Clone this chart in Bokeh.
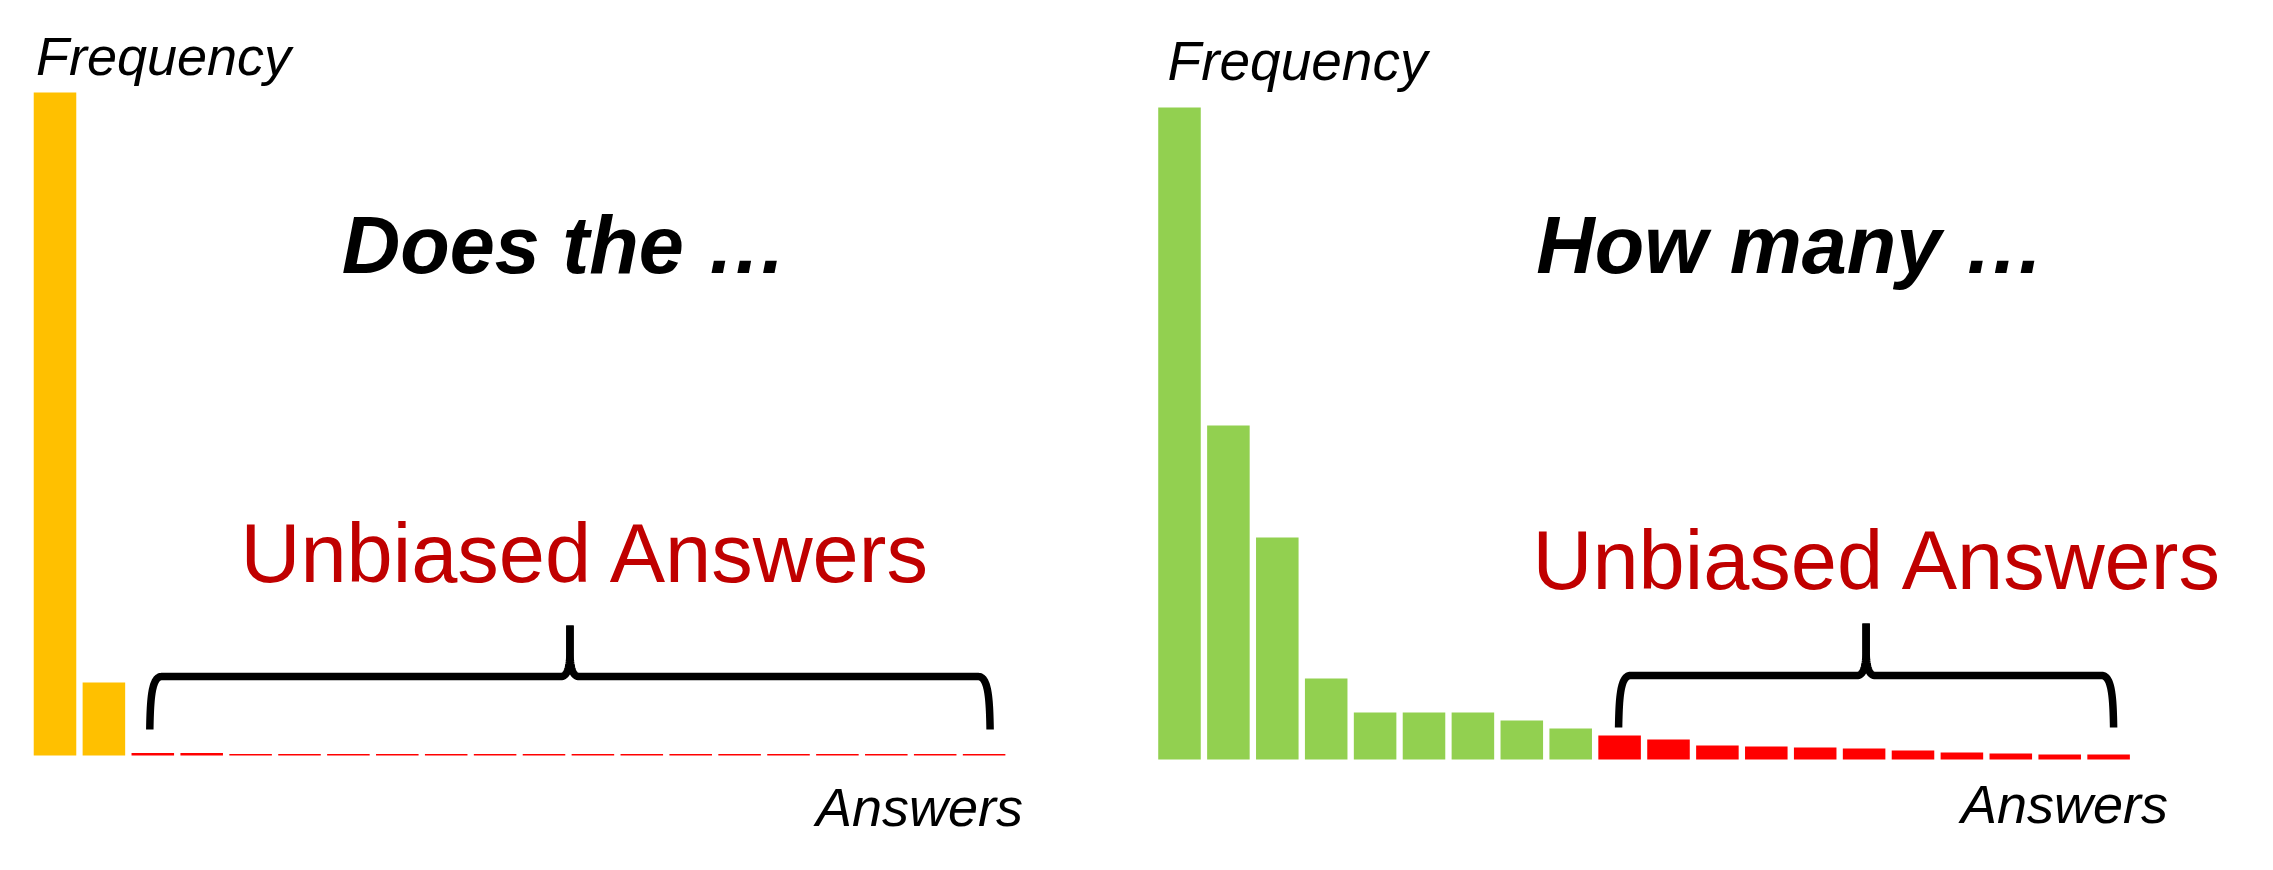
from bokeh.plotting import figure
from bokeh.layouts import row
from bokeh.models import Range1d, Label
from bokeh.embed import file_html
from bokeh.resources import INLINE

# ---------------- data ----------------
left_answers = list(range(20))
left_freq = [663, 73, 2.5, 2.5, 1.5, 1.5, 1.5, 1.5, 1.5, 1.5,
             1.5, 1.5, 1.5, 1.5, 1.5, 1.5, 1.5, 1.5, 1.5, 1.5]
left_biased_count = 2          # yellow bars

right_answers = list(range(20))
right_freq = [652, 334, 222, 81, 47, 47, 47, 39, 31, 24,
              20, 14, 13, 12, 11, 9, 7, 6, 5, 5]
right_biased_count = 9         # green bars

left_title = "Does the \u2026"
right_title = "How many \u2026"
unbiased_label = "Unbiased Answers"
y_label = "Frequency"
x_label = "Answers"

left_brace = (2, 19)
right_brace = (9, 19)

# ---------------- style ----------------
FONT = "Liberation Sans"
YELLOW = "#FFC000"
GREEN = "#92D050"
RED = "#FF0000"
DARKRED = "#C00000"
H = 854
TOP = 0            # page y of the figure's top edge
BASELINE_FIX = 0.36  # em shift to land the alphabetic baseline


def make_fig(width, page_left, origin_px, pitch, base_y):
    x0 = (page_left - origin_px) / pitch
    x1 = (page_left + width - origin_px) / pitch
    p = figure(width=width, height=H,
               x_range=Range1d(x0, x1),
               y_range=Range1d(-(TOP + H - base_y), base_y - TOP),
               output_backend="svg", toolbar_location=None,
               min_border=0, x_axis_location=None, y_axis_location=None)
    p.title = None
    p.grid.visible = False
    p.outline_line_color = None
    p.background_fill_color = "white"
    p.border_fill_color = "white"
    return p


def cubic(p0, c0, c1, p1, n=24):
    pts = []
    for k in range(n + 1):
        t = k / n
        m = 1 - t
        x = m**3 * p0[0] + 3 * m * m * t * c0[0] + 3 * m * t * t * c1[0] + t**3 * p1[0]
        y = m**3 * p0[1] + 3 * m * m * t * c0[1] + 3 * m * t * t * c1[1] + t**3 * p1[1]
        pts.append((x, y))
    return pts


def draw_brace(p, span, origin_px, pitch, yb, yh, yt, off_l=6, off_r=6):
    xl = origin_px + span[0] * pitch - off_l
    xr = origin_px + span[1] * pitch + off_r
    xm = (xl + xr) / 2
    for xe, s in ((xl, 1), (xr, -1)):
        pts = cubic((xe, yb), (xe + 0.5 * s, yb + 0.6 * (yh - yb)),
                    (xe + 2 * s, yh), (xe + 12 * s, yh))
        pts += cubic((xm - 9 * s, yh), (xm - 3 * s, yh), (xm, yh + 8), (xm, yh + 26))
        pts.append((xm, yt))
        xs = [(x - origin_px) / pitch for x, _ in pts]
        ys = [y for _, y in pts]
        p.line(xs, ys, line_width=7.5, color="black",
               line_join="round", line_cap="butt")


def add_text(p, txt, page_x, page_y, origin_px, pitch, base_y, size,
             style="normal", color="black"):
    p.add_layout(Label(x=(page_x - origin_px) / pitch,
                       y=base_y - page_y + BASELINE_FIX * size,
                       text=txt, text_font=FONT, text_font_style=style,
                       text_font_size=f"{size}px", text_color=color,
                       text_align="center", text_baseline="alphabetic"))


# ---------------- left chart ----------------
L_W, L_PAGE, L_ORIG, L_PITCH, L_BASE = 1100, 0, 54.5, 48.9, 755
pl = make_fig(L_W, L_PAGE, L_ORIG, L_PITCH, L_BASE)
lcol = [YELLOW if i < left_biased_count else RED for i in left_answers]
pl.vbar(x=left_answers, top=left_freq, bottom=0, width=0.87,
        fill_color=lcol, line_color=None)
draw_brace(pl, left_brace, L_ORIG, L_PITCH, 26, 79, 130, 3, 6)
add_text(pl, y_label, 163, 75, L_ORIG, L_PITCH, L_BASE, 54, "italic")
add_text(pl, left_title, 564, 274, L_ORIG, L_PITCH, L_BASE, 81, "bold italic")
add_text(pl, unbiased_label, 586, 583, L_ORIG, L_PITCH, L_BASE, 83, "normal", DARKRED)
add_text(pl, x_label, 919, 826, L_ORIG, L_PITCH, L_BASE, 54, "italic")

# ---------------- right chart ----------------
R_W, R_PAGE, R_ORIG, R_PITCH, R_BASE = 1157, 1100, 1179, 48.9, 759
pr = make_fig(R_W, R_PAGE, R_ORIG, R_PITCH, R_BASE)
rcol = [GREEN if i < right_biased_count else RED for i in right_answers]
pr.vbar(x=right_answers, top=right_freq, bottom=0, width=0.87,
        fill_color=rcol, line_color=None)
draw_brace(pr, right_brace, R_ORIG, R_PITCH, 32, 84, 136, 1, 5)
add_text(pr, y_label, 1297, 80, R_ORIG, R_PITCH, R_BASE, 55, "italic")
add_text(pr, right_title, 1790, 274, R_ORIG, R_PITCH, R_BASE, 81, "bold italic")
add_text(pr, unbiased_label, 1878, 590, R_ORIG, R_PITCH, R_BASE, 83, "normal", DARKRED)
add_text(pr, x_label, 2064, 823, R_ORIG, R_PITCH, R_BASE, 54, "italic")

layout = row(pl, pr)
open("out.html", "w").write(file_html(layout, INLINE))
